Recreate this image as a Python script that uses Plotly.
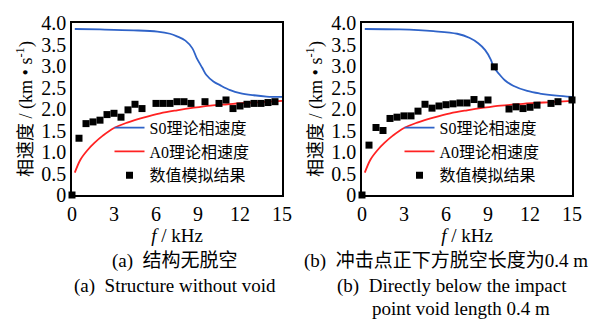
import plotly.graph_objects as go
from plotly.subplots import make_subplots

# ---- data ----
a0_f = [0.2, 0.6, 1.1, 1.6, 2.2, 3.0, 4.0, 5.1, 6.3, 7.5, 8.7, 9.9, 11.1, 12.3, 13.5, 15.0]
a0_v = [0.52, 0.82, 1.04, 1.21, 1.38, 1.56, 1.69, 1.80, 1.90, 1.97, 2.03, 2.08, 2.11, 2.14, 2.16, 2.19]

s0a_f = [0.2, 2.0, 4.4, 6.1, 7.0, 7.5, 8.1, 8.6, 8.9, 9.3, 9.6, 10.1, 10.6, 11.3, 12.0, 13.0, 13.9, 15.0]
s0a_v = [3.86, 3.85, 3.83, 3.80, 3.75, 3.69, 3.59, 3.41, 3.19, 2.96, 2.79, 2.64, 2.55, 2.44, 2.37, 2.32, 2.29, 2.28]

s0b_f = [0.2, 2.7, 5.1, 6.8, 7.7, 8.3, 8.8, 9.2, 9.4, 9.8, 10.2, 10.8, 11.8, 12.7, 13.9, 15.0]
s0b_v = [3.86, 3.85, 3.81, 3.75, 3.65, 3.53, 3.37, 3.15, 2.98, 2.81, 2.67, 2.54, 2.42, 2.36, 2.31, 2.28]

num_a_f = [0, 0.5, 1.0, 1.5, 2.0, 2.5, 3.0, 3.5, 4.0, 4.5, 5.0, 6.0, 6.5, 7.0, 7.5, 8.0, 8.5,
           9.5, 10.5, 11.0, 11.5, 12.0, 12.5, 13.0, 13.5, 14.0, 14.5]
num_a_v = [0, 1.32, 1.66, 1.70, 1.74, 1.87, 1.90, 1.81, 1.98, 2.11, 2.01, 2.13, 2.13, 2.13, 2.17, 2.17, 2.13,
           2.17, 2.13, 2.21, 2.01, 2.07, 2.11, 2.13, 2.13, 2.15, 2.17]

num_b_f = [0, 0.5, 1.0, 1.5, 2.0, 2.5, 3.0, 3.5, 4.0, 4.5, 5.0, 5.5, 6.0, 6.5, 7.0, 7.5, 8.0, 8.5, 9.0,
           9.45, 10.5, 11.0, 11.5, 12.0, 12.5, 13.5, 14.0, 15.0]
num_b_v = [0, 1.16, 1.57, 1.50, 1.78, 1.81, 1.84, 1.84, 1.95, 2.11, 2.02, 2.07, 2.10, 2.12, 2.14, 2.14, 2.22, 2.11, 2.21,
           2.98, 2.00, 2.05, 2.01, 2.04, 2.09, 2.13, 2.17, 2.21]

y_ticks = [0, 0.5, 1.0, 1.5, 2.0, 2.5, 3.0, 3.5, 4.0]
y_ticktext = ["0", "0.5", "1.0", "1.5", "2.0", "2.5", "3.0", "3.5", "4.0"]
x_ticks = [0, 3, 6, 9, 12, 15]

names = ["S0理论相速度", "A0理论相速度", "数值模拟结果"]
BLUE = "#2f63c8"
RED = "#ff2222"
FONT = "Liberation Serif, Times New Roman, Noto Sans CJK SC, serif"

fig = make_subplots(rows=1, cols=2, horizontal_spacing=0.16)

panels = [(1, s0a_f, s0a_v, num_a_f, num_a_v, "legend"),
          (2, s0b_f, s0b_v, num_b_f, num_b_v, "legend2")]
for col, sf, sv, nf, nv, lg in panels:
    fig.add_trace(go.Scatter(x=sf, y=sv, mode="lines", name=names[0], line=dict(color=BLUE, width=1.8, shape="spline"),
                             legend=lg), row=1, col=col)
    fig.add_trace(go.Scatter(x=a0_f, y=a0_v, mode="lines", name=names[1], line=dict(color=RED, width=1.8, shape="spline"),
                             legend=lg), row=1, col=col)
    fig.add_trace(go.Scatter(x=nf, y=nv, mode="markers", name=names[2],
                             marker=dict(symbol="square", size=7, color="black"), cliponaxis=False,
                             legend=lg), row=1, col=col)

for col in (1, 2):
    fig.update_xaxes(range=[0, 15], tickvals=x_ticks, showline=True, mirror=True, linecolor="black", linewidth=1.5,
                     showgrid=False, zeroline=False, ticks="", tickfont=dict(size=20, family=FONT, color="black"),
                     title=dict(text="<i>f</i> / kHz", font=dict(size=19, family=FONT, color="black"), standoff=4),
                     row=1, col=col)
    fig.update_yaxes(range=[0, 4], tickvals=y_ticks, ticktext=y_ticktext, showline=True, mirror=True,
                     linecolor="black", linewidth=1.5, showgrid=False, zeroline=False, ticks="",
                     tickfont=dict(size=20, family=FONT, color="black"),
                     title=dict(text="相速度 / (km • s<sup>-1</sup>)", font=dict(size=18, family=FONT, color="black"),
                                standoff=4),
                     row=1, col=col)

leg_common = dict(font=dict(size=16, family=FONT, color="black"), bgcolor="rgba(0,0,0,0)",
                  xanchor="left", yanchor="top", tracegroupgap=0, itemwidth=30)
fig.update_layout(
    legend=dict(x=0.075, y=0.49, **leg_common),
    legend2=dict(x=0.655, y=0.49, **leg_common),
)

captions = [
    (0.205, -0.383, "(a)  结构无脱空"),
    (0.205, -0.528, "(a)  Structure without void"),
    (0.748, -0.383, "(b)  冲击点正下方脱空长度为0.4 m"),
    (0.76, -0.528, "(b)  Directly below the impact"),
    (0.778, -0.66, "point void length 0.4 m"),
]
for x, y, t in captions:
    fig.add_annotation(x=x, y=y, xref="paper", yref="paper", text=t, showarrow=False,
                       font=dict(size=19, family=FONT, color="black"), xanchor="center", yanchor="middle")

fig.update_layout(width=612, height=320, margin=dict(l=72, r=40, t=16, b=125),
                  plot_bgcolor="white", paper_bgcolor="white")

fig.write_html("out.html")
